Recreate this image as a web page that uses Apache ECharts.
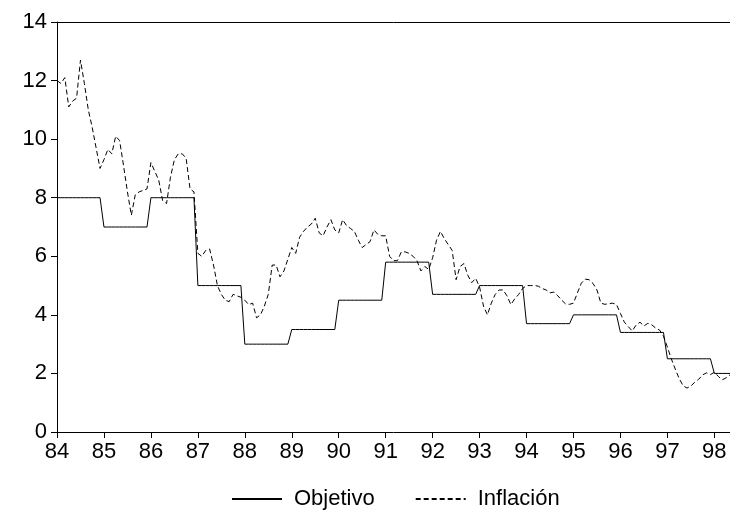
<!DOCTYPE html>
<html>
<head>
<meta charset="utf-8">
<script src="https://cdn.jsdelivr.net/npm/echarts@6/dist/echarts.min.js"></script>
<style>html,body{margin:0;padding:0;background:#fff}#c{width:730px;height:525px}</style>
</head>
<body>
<div id="c"></div>
<script>
// Monthly observations from 84:01 (index 0) to 98:05 (index 172)
var yearTicks = ['84','85','86','87','88','89','90','91','92','93','94','95','96','97','98'];
var yTicks = [0, 2, 4, 6, 8, 10, 12, 14];
var seriesNames = ['Objetivo', 'Inflación'];

var objetivo = [
  8,8,8,8,8,8,8,8,8,8,8,8,
  7,7,7,7,7,7,7,7,7,7,7,7,
  8,8,8,8,8,8,8,8,8,8,8,8,
  5,5,5,5,5,5,5,5,5,5,5,5,
  3,3,3,3,3,3,3,3,3,3,3,3,
  3.5,3.5,3.5,3.5,3.5,3.5,3.5,3.5,3.5,3.5,3.5,3.5,
  4.5,4.5,4.5,4.5,4.5,4.5,4.5,4.5,4.5,4.5,4.5,4.5,
  5.8,5.8,5.8,5.8,5.8,5.8,5.8,5.8,5.8,5.8,5.8,5.8,
  4.7,4.7,4.7,4.7,4.7,4.7,4.7,4.7,4.7,4.7,4.7,4.7,
  5,5,5,5,5,5,5,5,5,5,5,5,
  3.7,3.7,3.7,3.7,3.7,3.7,3.7,3.7,3.7,3.7,3.7,3.7,
  4,4,4,4,4,4,4,4,4,4,4,4,
  3.4,3.4,3.4,3.4,3.4,3.4,3.4,3.4,3.4,3.4,3.4,3.4,
  2.5,2.5,2.5,2.5,2.5,2.5,2.5,2.5,2.5,2.5,2.5,2.5,
  2,2,2,2,2
];

var inflacion = [
  12.0,11.9,12.1,11.1,11.3,11.4,12.7,11.9,11.0,10.4,9.7,9.0,
  9.3,9.65,9.5,10.1,9.95,9.1,8.2,7.4,8.1,8.2,8.25,8.3,
  9.2,8.9,8.6,7.9,7.8,8.7,9.3,9.5,9.5,9.35,8.3,8.2,
  6.1,6.0,6.2,6.25,5.7,5.0,4.7,4.5,4.45,4.7,4.65,4.6,
  4.5,4.35,4.4,3.9,4.0,4.3,4.7,5.7,5.7,5.3,5.5,5.9,
  6.3,6.1,6.65,6.85,7.0,7.1,7.3,6.8,6.7,7.0,7.25,6.9,
  6.8,7.25,7.05,6.95,6.85,6.55,6.3,6.4,6.5,6.9,6.75,6.7,
  6.7,6.0,5.85,5.85,6.15,6.15,6.1,6.0,5.85,5.5,5.65,5.55,
  5.95,6.55,6.85,6.6,6.4,6.2,5.2,5.65,5.75,5.35,5.1,5.25,
  4.95,4.3,4.0,4.4,4.7,4.85,4.85,4.65,4.35,4.55,4.7,4.9,
  5.0,5.0,5.0,4.98,4.9,4.85,4.75,4.78,4.65,4.5,4.37,4.36,
  4.4,4.75,5.08,5.22,5.2,5.07,4.85,4.4,4.36,4.38,4.4,4.35,
  4.05,3.75,3.6,3.45,3.65,3.75,3.62,3.71,3.66,3.55,3.48,3.27,
  2.9,2.5,2.15,1.83,1.58,1.5,1.57,1.7,1.8,1.95,2.02,1.96,
  2.04,1.9,1.78,1.85,1.95
];

function pairs(arr){ return arr.map(function(v,i){ return [i, v]; }); }

var FONT = "'Liberation Sans', Arial, sans-serif";
var FS = 22;
var chart = echarts.init(document.getElementById('c'), null, {renderer: 'canvas'});
var lastIndex = objetivo.length - 1;

chart.setOption({
  animation: false,
  backgroundColor: '#ffffff',
  textStyle: {fontFamily: FONT, color: '#000'},
  grid: {left: 57, right: 0, top: 22, bottom: 93, containLabel: false},
  legend: {
    top: 483,
    left: 226,
    itemWidth: 50,
    itemHeight: 14,
    itemGap: 40,
    itemStyle: {opacity: 0},
    textStyle: {fontFamily: FONT, fontSize: FS, color: '#000', padding: [0,0,0,7]},
    data: seriesNames
  },
  xAxis: [{
    type: 'value',
    min: 0,
    max: lastIndex,
    interval: 12,
    axisLine: {show: true, onZero: false, lineStyle: {color: '#000', width: 1}},
    axisTick: {show: true, length: 6, inside: false, lineStyle: {color: '#000'}},
    axisLabel: {
      show: true, margin: 9, fontFamily: FONT, fontSize: FS, color: '#000',
      showMaxLabel: false,
      formatter: function(v){ var k = Math.round(v/12); return yearTicks[k] !== undefined ? yearTicks[k] : ''; }
    },
    splitLine: {show: false}
  }, {
    type: 'value',
    position: 'top',
    min: 0,
    max: lastIndex,
    axisLine: {show: true, onZero: false, lineStyle: {color: '#000', width: 1}},
    axisTick: {show: false},
    axisLabel: {show: false},
    splitLine: {show: false}
  }],
  yAxis: {
    type: 'value',
    min: yTicks[0],
    max: yTicks[yTicks.length-1],
    interval: 2,
    axisLine: {show: true, lineStyle: {color: '#000', width: 1}},
    axisTick: {show: true, length: 6, lineStyle: {color: '#000'}},
    axisLabel: {margin: 10, fontFamily: FONT, fontSize: FS, color: '#000'},
    splitLine: {show: false}
  },
  series: [{
    name: seriesNames[0],
    type: 'line',
    data: pairs(objetivo),
    showSymbol: false,
    symbol: 'none',
    lineStyle: {color: '#000', width: 1, type: 'solid'},
    itemStyle: {color: '#000'}
  }, {
    name: seriesNames[1],
    type: 'line',
    data: pairs(inflacion),
    showSymbol: false,
    symbol: 'none',
    lineStyle: {color: '#000', width: 1, type: [5, 3]},
    itemStyle: {color: '#000'}
  }]
});
</script>
</body>
</html>
